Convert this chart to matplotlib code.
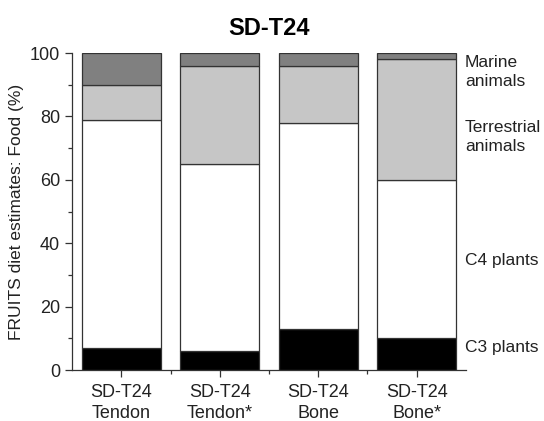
import numpy as np
import matplotlib.pyplot as plt
from matplotlib.ticker import MultipleLocator, FixedLocator

plt.rcParams['font.family'] = ['Liberation Sans', 'DejaVu Sans']

samples = ["SD-T24\nTendon", "SD-T24\nTendon*", "SD-T24\nBone", "SD-T24\nBone*"]
c3_plants = [7, 6, 13, 10]
c4_plants = [72, 59, 65, 50]
terrestrial = [11, 31, 18, 38]
marine = [10, 4, 4, 2]

sources = ["C3 plants", "C4 plants", "Terrestrial\nanimals", "Marine\nanimals"]
source_label_y = [7, 34.7, 73.5, 94]
colours = ["black", "white", "#c6c6c6", "#808080"]

fig = plt.figure(figsize=(5.44, 4.21), dpi=100)
ax = fig.add_axes([0.1324, 0.1211, 0.7242, 0.7529])

x = np.arange(len(samples))
bottom = np.zeros(len(samples))
for vals, col in zip([c3_plants, c4_plants, terrestrial, marine], colours):
    ax.bar(x, vals, width=0.8, bottom=bottom, color=col,
           edgecolor="#333333", linewidth=0.9)
    bottom += np.array(vals)

# food source names to the right of the last bar
for name, yy in zip(sources, source_label_y):
    ax.text(3.49, yy, name, ha="left", va="center", fontsize=12.5,
            color="#222222", linespacing=1.3, clip_on=False)

ax.set_xlim(-0.5, 3.5)
ax.set_ylim(0, 100)
ax.set_xticks(x)
ax.set_xticklabels(samples, fontsize=12.5, color="#222222", linespacing=1.3)
ax.xaxis.set_minor_locator(FixedLocator([0.5, 1.5, 2.5]))
ax.yaxis.set_major_locator(MultipleLocator(20))
ax.yaxis.set_minor_locator(MultipleLocator(10))
ax.tick_params(axis="both", which="major", length=5, width=0.9,
               color="#333333", labelsize=13, labelcolor="#222222")
ax.tick_params(axis="x", which="major", pad=5)
ax.tick_params(axis="both", which="minor", length=3, width=0.9, color="#333333")

ax.spines["top"].set_visible(False)
ax.spines["right"].set_visible(False)
for s in ("left", "bottom"):
    ax.spines[s].set_color("#333333")
    ax.spines[s].set_linewidth(0.9)

ax.set_ylabel("FRUITS diet estimates: Food (%)", fontsize=12.5, color="#222222")
ax.set_title("SD-T24", fontsize=17, fontweight="bold", pad=13)

fig.savefig("out.png", dpi=100)
